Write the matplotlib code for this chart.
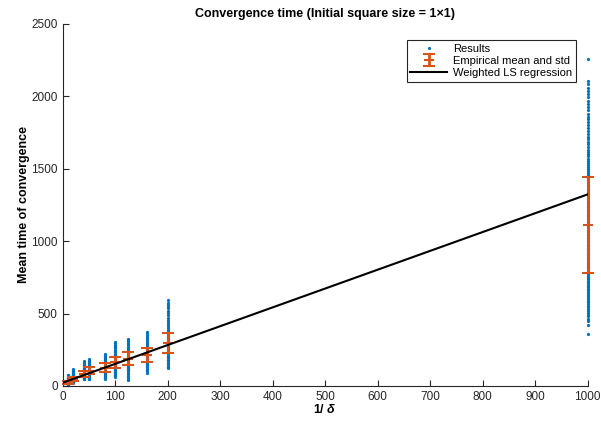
import matplotlib
matplotlib.use("Agg")
import matplotlib.pyplot as plt

plt.rcParams["font.family"] = ["Liberation Sans", "DejaVu Sans"]
plt.rcParams["mathtext.fontset"] = "custom"
plt.rcParams["mathtext.bf"] = "Liberation Sans:bold:italic"

# 1/delta values of the runs
inv_delta = [10, 20, 40, 50, 80, 100, 125, 160, 200, 1000]

# individual convergence times, one list per 1/delta
results = {
    10: [8, 10, 12, 14, 15, 17, 19, 20, 22, 23, 24, 25, 26, 27, 28, 30, 32, 34, 37, 40, 43, 45,
         49, 52, 56, 60, 65, 70, 74, 78],
    20: [23, 26, 28, 30, 32, 34, 36, 38, 40, 43, 45, 47, 49, 51, 53, 55, 58, 61, 65, 68, 70, 73,
         76, 80, 84, 90, 95, 100, 105, 110, 115],
    40: [46, 50, 52, 55, 58, 61, 64, 67, 70, 75, 80, 84, 88, 92, 96, 100, 105, 110, 114, 117, 121,
         125, 130, 135, 141, 148, 154, 160, 166, 173],
    50: [46, 50, 55, 59, 63, 68, 72, 76, 80, 87, 93, 98, 103, 108, 113, 118, 124, 131, 136, 140,
         145, 150, 156, 162, 168, 175, 180, 184],
    80: [46, 52, 58, 64, 70, 76, 82, 87, 92, 100, 108, 115, 122, 128, 134, 140, 147, 155, 160, 165,
         172, 178, 185, 192, 198, 205, 212, 219],
    100: [64, 71, 78, 85, 92, 99, 105, 111, 117, 128, 138, 147, 155, 163, 171, 180, 190, 202, 209,
          216, 224, 232, 241, 250, 259, 268, 277, 285, 296, 306],
    125: [41, 50, 60, 71, 82, 91, 100, 109, 118, 126, 133, 146, 158, 168, 178, 188, 198, 209, 221,
          228, 235, 244, 252, 261, 270, 280, 290, 299, 308, 318, 327],
    160: [92, 101, 110, 119, 128, 136, 145, 153, 160, 173, 185, 196, 206, 215, 224, 234, 245, 258,
          265, 272, 281, 290, 300, 310, 321, 332, 343, 355, 365, 375],
    200: [122, 131, 140, 150, 160, 170, 180, 190, 200, 209, 218, 226, 235, 242, 250, 257, 263, 269,
          275, 281, 287, 293, 298, 304, 310, 316, 323, 330, 338, 346, 355, 365, 375, 386, 398, 411,
          425, 440, 455, 472, 490, 505, 520, 535, 550, 563, 575, 592],
    1000: [357, 420, 449, 465, 480, 493, 505, 518, 530, 543, 555, 568, 580, 590, 600, 610, 620, 630,
           640, 650, 660, 670, 680, 690, 700, 709, 718, 727, 735, 744, 752, 761, 770, 779, 788, 797,
           805, 814, 822, 831, 840, 849, 858, 867, 875, 884, 893, 902, 910, 919, 928, 937, 946, 955,
           964, 973, 982, 991, 1000, 1010, 1020, 1030, 1040, 1050, 1060, 1070, 1080, 1090, 1100,
           1110, 1120, 1130, 1140, 1150, 1160, 1170, 1180, 1190, 1200, 1211, 1222, 1234, 1245, 1257,
           1268, 1279, 1290, 1302, 1315, 1328, 1340, 1352, 1365, 1378, 1390, 1402, 1415, 1428, 1440,
           1454, 1468, 1482, 1495, 1510, 1525, 1540, 1555, 1570, 1585, 1600, 1615, 1632, 1650, 1668,
           1685, 1702, 1720, 1740, 1760, 1780, 1800, 1820, 1840, 1860, 1880, 1902, 1925, 1948, 1970,
           1992, 2015, 2038, 2060, 2084, 2107, 2256],
}

# empirical mean and std
mean_time = [25, 50, 85, 105, 127, 163, 188, 214, 297, 1109]
std_time = [10, 15, 20, 23, 30, 40, 43, 48, 71, 331]

# weighted LS regression line endpoints
reg_x = [0, 1000]
reg_y = [22, 1323]

blue = "#0072BD"
orange = "#D95319"
axis_col = "#262626"

fig = plt.figure(figsize=(6.01, 4.26), dpi=100)
ax = fig.add_axes([0.104, 0.094, 0.874, 0.85])

first = True
for x in inv_delta:
    ys = results[x]
    line, = ax.plot([x] * len(ys), ys, ".", color=blue, markersize=2.6, clip_on=False,
                    zorder=2, label="Results" if first else None)
    if first:
        h_res = line
    first = False

h_err = ax.errorbar(inv_delta, mean_time, yerr=std_time, fmt="_", color=orange,
                    ecolor=orange, elinewidth=2, capsize=4, capthick=1.5,
                    markersize=7, markeredgewidth=1.5, zorder=3,
                    label="Empirical mean and std")
for art in h_err.lines[1] + h_err.lines[2] + (h_err.lines[0],):
    art.set_clip_on(False)
    art.set_zorder(3)

h_reg, = ax.plot(reg_x, reg_y, color="black", linewidth=1.5, zorder=4,
                 label="Weighted LS regression")

ax.set_xlim(0, 1000)
ax.set_ylim(0, 2500)
ax.set_xticks(range(0, 1001, 100))
ax.set_yticks(range(0, 2501, 500))
ax.tick_params(direction="in", length=4, labelsize=8.5, colors=axis_col, width=0.8)
for s in ["top", "right"]:
    ax.spines[s].set_visible(False)
for s in ["left", "bottom"]:
    ax.spines[s].set_color(axis_col)
    ax.spines[s].set_linewidth(0.8)

ax.set_title("Convergence time (Initial square size = 1\u00d71)", fontsize=9,
             fontweight="bold", pad=5)
ax.set_xlabel(r"1/ $\mathbf{\delta}$", fontsize=9, fontweight="bold", labelpad=0)
ax.set_ylabel("Mean time of convergence", fontsize=9, fontweight="bold", labelpad=1)

leg = ax.legend([h_res, h_err, h_reg],
                ["Results", "Empirical mean and std", "Weighted LS regression"],
                loc="upper right", bbox_to_anchor=(0.977, 0.956), fontsize=8,
                frameon=True, fancybox=False, edgecolor=axis_col, framealpha=1,
                handlelength=3.3, borderpad=0.35, labelspacing=0.2, handletextpad=0.5,
                borderaxespad=0)
leg.get_frame().set_linewidth(0.8)

plt.savefig("out.png", dpi=100)
